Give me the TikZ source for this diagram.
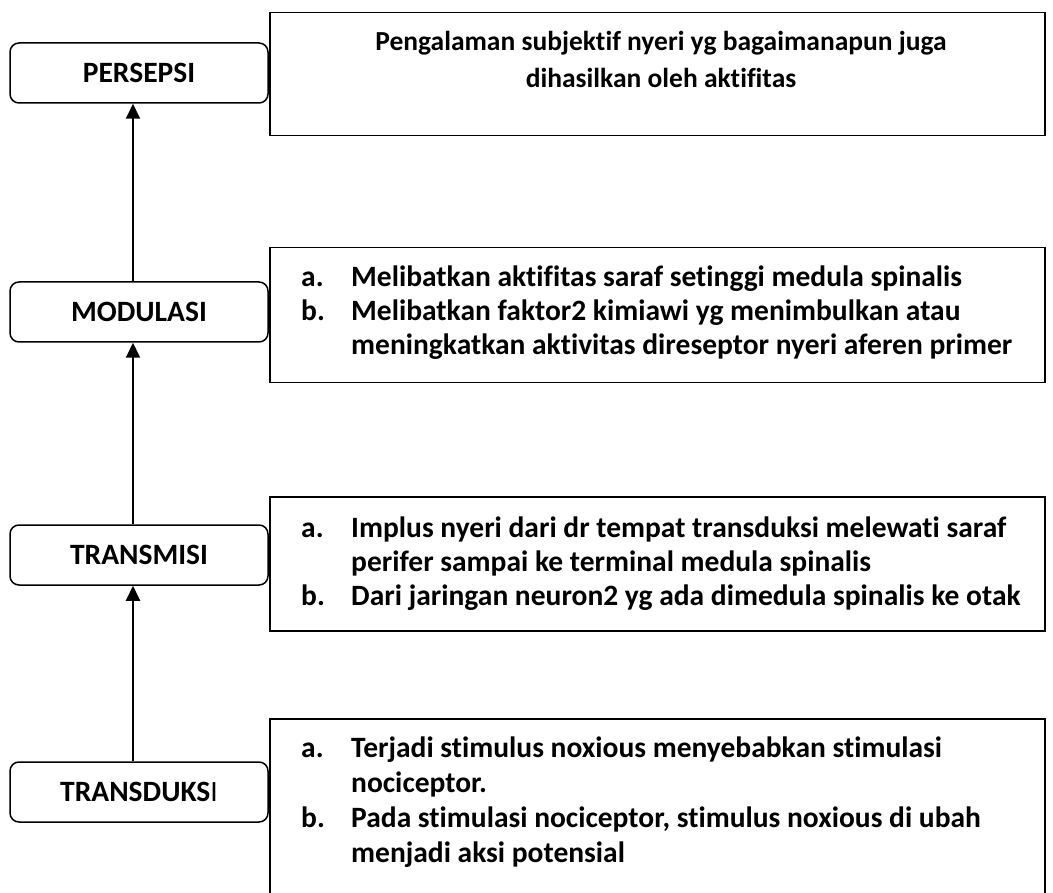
\documentclass[tikz,border=0pt]{standalone}
\usepackage{fontspec}
\setmainfont{Carlito}[Ligatures=CommonOff]
\usetikzlibrary{arrows.meta}
\begin{document}
\begin{tikzpicture}[x=1pt,y=-1pt,
  stage/.style={draw, line width=1.5pt, rounded corners=9pt, minimum width=258pt, minimum height=60pt,
    font=\fontsize{29.5}{34}\selectfont\bfseries, inner sep=0pt},
  descbox/.style={draw, line width=1.5pt, anchor=north west, inner sep=0pt, minimum width=775pt},
  desc/.style={anchor=base west, inner sep=0pt, font=\fontsize{29.5}{34}\selectfont\bfseries, align=left},
  up/.style={line width=2pt, -{Triangle[width=14pt,length=15pt]}}]
\clip (0,0) rectangle (1053,893);
\fill[white] (0,0) rectangle (1053,893);

% description boxes
\node[descbox, minimum height=123pt] (b1) at (269,12) {};
\node[descbox, minimum height=135pt] (b2) at (269,247) {};
\node[descbox, minimum height=134pt] (b3) at (269,496) {};
\node[descbox, minimum height=220pt] (b4) at (269,718) {};

% stage boxes
\node[stage] (per) at (139,73) {PERSEPSI};
\node[stage] (mod) at (139,312) {MODULASI};
\node[stage] (tmi) at (139,555) {TRANSMISI};
\node[stage] (tdu) at (139,792) {TRANSDUKS{\mdseries I}};

% arrows
\draw[up] ([xshift=-6pt]mod.north) -- ([xshift=-6pt]per.south);
\draw[up] ([xshift=-6pt]tmi.north) -- ([xshift=-6pt]mod.south);
\draw[up] ([xshift=-6pt]tdu.north) -- ([xshift=-6pt]tmi.south);

% texts
\node[anchor=base, inner sep=0pt, font=\fontsize{27.5}{37}\selectfont\bfseries, align=center] (t1) at (661,51)
  {\begin{tabular}[t]{@{}c@{}}Pengalaman subjektif nyeri yg bagaimanapun juga\\ dihasilkan oleh aktifitas\end{tabular}};

\node[desc] (t2) at (301,287) {\begin{tabular}[t]{@{}p{50pt}@{}l@{}}
a. & Melibatkan aktifitas saraf setinggi medula spinalis\\
b. & Melibatkan faktor2 kimiawi yg menimbulkan atau\\
   & meningkatkan aktivitas direseptor nyeri aferen primer
\end{tabular}};

\node[desc] (t3) at (301,537) {\begin{tabular}[t]{@{}p{50pt}@{}l@{}}
a. & Implus nyeri dari dr tempat transduksi melewati saraf\\
   & perifer sampai ke terminal medula spinalis\\
b. & Dari jaringan neuron2 yg ada dimedula spinalis ke otak
\end{tabular}};

\node[desc, font=\fontsize{29.5}{35.3}\selectfont\bfseries] (t4) at (301,757) {\begin{tabular}[t]{@{}p{50pt}@{}l@{}}
a. & Terjadi stimulus noxious menyebabkan stimulasi\\
   & nociceptor.\\
b. & Pada stimulasi nociceptor, stimulus noxious di ubah\\
   & menjadi aksi potensial
\end{tabular}};
\end{tikzpicture}
\end{document}
